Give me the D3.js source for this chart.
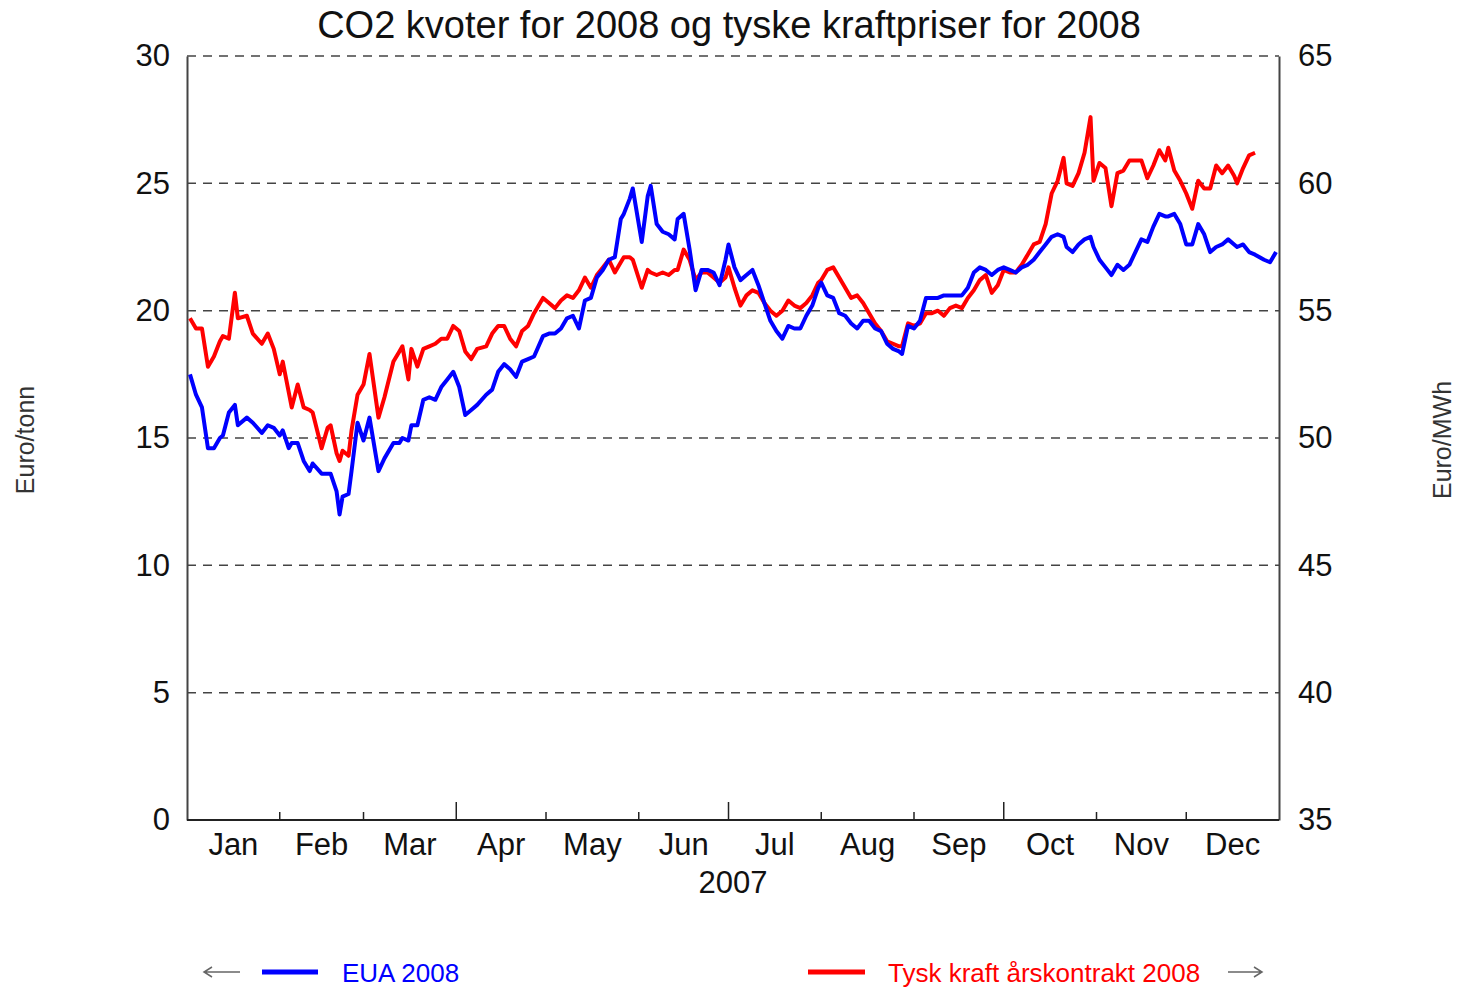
<!DOCTYPE html>
<html>
<head>
<meta charset="utf-8">
<script src="https://cdn.jsdelivr.net/npm/d3@7"></script>
<style>
  body { margin: 0; background: #fff; }
  svg { display: block; font-family: "Liberation Sans", Arial, sans-serif; }
</style>
</head>
<body>
<script>
const w = 1461;
const h = 988;
const margin = {top: 56, right: 182, bottom: 168, left: 187};

const titleText = "CO2 kvoter for 2008 og tyske kraftpriser for 2008";
const leftTicks = [0, 5, 10, 15, 20, 25, 30];
const rightTicks = [35, 40, 45, 50, 55, 60, 65];
const monthLabels = ["Jan", "Feb", "Mar", "Apr", "May", "Jun", "Jul", "Aug", "Sep", "Oct", "Nov", "Dec"];
const seriesNames = ["EUA 2008", "Tysk kraft årskontrakt 2008"];

// dates (2007)
const dates = [
  "2007-01-02","2007-01-04","2007-01-06","2007-01-08","2007-01-10","2007-01-12","2007-01-13","2007-01-15","2007-01-17","2007-01-18",
  "2007-01-21","2007-01-23","2007-01-26","2007-01-28","2007-01-30","2007-02-01","2007-02-02","2007-02-04","2007-02-05","2007-02-07",
  "2007-02-09","2007-02-11","2007-02-12","2007-02-15","2007-02-17","2007-02-18","2007-02-20","2007-02-21","2007-02-22","2007-02-24",
  "2007-02-25","2007-02-27","2007-03-01","2007-03-03","2007-03-06","2007-03-08","2007-03-11","2007-03-13","2007-03-14","2007-03-16",
  "2007-03-17","2007-03-19","2007-03-21","2007-03-23","2007-03-25","2007-03-27","2007-03-29","2007-03-31","2007-04-02","2007-04-04",
  "2007-04-06","2007-04-08","2007-04-11","2007-04-13","2007-04-15","2007-04-17","2007-04-19","2007-04-21","2007-04-23","2007-04-25",
  "2007-04-27","2007-04-30","2007-05-02","2007-05-04","2007-05-06","2007-05-08","2007-05-10","2007-05-12","2007-05-14","2007-05-16",
  "2007-05-18","2007-05-20","2007-05-22","2007-05-24","2007-05-26","2007-05-27","2007-05-29","2007-05-30","2007-06-02","2007-06-04",
  "2007-06-05","2007-06-07","2007-06-09","2007-06-11","2007-06-13","2007-06-14","2007-06-16","2007-06-18","2007-06-20","2007-06-22",
  "2007-06-24","2007-06-26","2007-06-28","2007-06-30","2007-07-01","2007-07-03","2007-07-05","2007-07-07","2007-07-09","2007-07-11",
  "2007-07-13","2007-07-15","2007-07-17","2007-07-19","2007-07-21","2007-07-23","2007-07-25","2007-07-27","2007-07-29","2007-07-31",
  "2007-08-01","2007-08-03","2007-08-05","2007-08-07","2007-08-09","2007-08-11","2007-08-13","2007-08-15","2007-08-17","2007-08-19",
  "2007-08-21","2007-08-23","2007-08-25","2007-08-27","2007-08-28","2007-08-30","2007-09-01","2007-09-03","2007-09-05","2007-09-07",
  "2007-09-09","2007-09-11","2007-09-13","2007-09-15","2007-09-17","2007-09-19","2007-09-21","2007-09-23","2007-09-25","2007-09-27",
  "2007-09-29","2007-10-01","2007-10-03","2007-10-05","2007-10-07","2007-10-09","2007-10-11","2007-10-13","2007-10-15","2007-10-17",
  "2007-10-19","2007-10-21","2007-10-22","2007-10-24","2007-10-26","2007-10-28","2007-10-30","2007-10-31","2007-11-02","2007-11-04",
  "2007-11-06","2007-11-08","2007-11-10","2007-11-12","2007-11-14","2007-11-16","2007-11-18","2007-11-20","2007-11-22","2007-11-24",
  "2007-11-25","2007-11-27","2007-11-29","2007-12-01","2007-12-03","2007-12-05","2007-12-07","2007-12-09","2007-12-11","2007-12-13",
  "2007-12-15","2007-12-17","2007-12-18","2007-12-20","2007-12-22","2007-12-24","2007-12-27","2007-12-29","2007-12-31"
];

// EUA 2008, Euro/tonn (left axis)
const eua = [
  17.5,16.7,16.2,14.6,14.6,15.0,15.1,16.0,16.3,15.5,
  15.8,15.6,15.2,15.5,15.4,15.1,15.3,14.6,14.8,14.8,
  14.1,13.7,14.0,13.6,13.6,13.6,12.9,12.0,12.7,12.8,
  13.7,15.6,14.9,15.8,13.7,14.2,14.8,14.8,15.0,14.9,
  15.5,15.5,16.5,16.6,16.5,17.0,17.3,17.6,17.0,15.9,
  16.1,16.3,16.7,16.9,17.6,17.9,17.7,17.4,18.0,18.1,
  18.2,19.0,19.1,19.1,19.3,19.7,19.8,19.3,20.4,20.5,
  21.3,21.6,22.0,22.1,23.6,23.8,24.4,24.8,22.7,24.5,
  24.9,23.4,23.1,23.0,22.8,23.6,23.8,22.4,20.8,21.6,
  21.6,21.5,21.0,22.0,22.6,21.7,21.2,21.4,21.6,21.0,
  20.3,19.6,19.2,18.9,19.4,19.3,19.3,19.8,20.2,20.9,
  21.1,20.6,20.5,19.9,19.8,19.5,19.3,19.6,19.6,19.3,
  19.2,18.7,18.5,18.4,18.3,19.4,19.3,19.6,20.5,20.5,
  20.5,20.6,20.6,20.6,20.6,20.9,21.5,21.7,21.6,21.4,
  21.6,21.7,21.6,21.5,21.7,21.8,22.0,22.3,22.6,22.9,
  23.0,22.9,22.5,22.3,22.6,22.8,22.9,22.5,22.0,21.7,
  21.4,21.8,21.6,21.8,22.3,22.8,22.7,23.3,23.8,23.7,
  23.7,23.8,23.4,22.6,22.6,23.4,23.0,22.3,22.5,22.6,
  22.8,22.6,22.5,22.6,22.3,22.2,22.0,21.9,22.3
];

// Tysk kraft årskontrakt 2008, Euro/MWh (right axis)
const kraft = [
  54.7,54.3,54.3,52.8,53.2,53.8,54.0,53.9,55.7,54.7,
  54.8,54.1,53.7,54.1,53.5,52.5,53.0,51.8,51.2,52.1,
  51.2,51.1,51.0,49.6,50.4,50.5,49.4,49.1,49.5,49.3,
  50.3,51.7,52.1,53.3,50.8,51.6,53.0,53.4,53.6,52.3,
  53.5,52.8,53.5,53.6,53.7,53.9,53.9,54.4,54.2,53.4,
  53.1,53.5,53.6,54.1,54.4,54.4,53.9,53.6,54.2,54.4,
  54.9,55.5,55.3,55.1,55.4,55.6,55.5,55.8,56.3,55.9,
  56.4,56.7,57.0,56.5,56.9,57.1,57.1,57.0,55.9,56.6,
  56.5,56.4,56.5,56.4,56.6,56.6,57.4,57.0,56.2,56.5,
  56.5,56.3,56.1,56.3,56.7,55.9,55.2,55.6,55.8,55.7,
  55.3,55.0,54.8,55.0,55.4,55.2,55.1,55.3,55.6,56.1,
  56.2,56.6,56.7,56.3,55.9,55.5,55.6,55.3,54.9,54.5,
  54.2,53.8,53.7,53.6,53.6,54.5,54.4,54.5,54.9,54.9,
  55.0,54.8,55.1,55.2,55.1,55.5,55.8,56.2,56.4,55.7,
  56.0,56.6,56.5,56.5,56.8,57.2,57.6,57.7,58.4,59.6,
  60.1,61.0,60.0,59.9,60.4,61.2,62.6,60.1,60.8,60.6,
  59.1,60.4,60.5,60.9,60.9,60.9,60.2,60.7,61.3,60.9,
  61.4,60.5,60.1,59.6,59.0,60.1,59.8,59.8,60.7,60.4,
  60.7,60.3,60.0,60.6,61.1,61.2,null,null,null
];

const parseDate = d3.timeParse("%Y-%m-%d");
const data = dates.map((d, i) => ({date: parseDate(d), eua: eua[i], kraft: kraft[i]}));

const svg = d3.select("body")
  .append("svg")
  .attr("width", w)
  .attr("height", h);

const x = d3.scaleTime()
  .domain([new Date(2007, 0, 1), new Date(2008, 0, 1)])
  .range([margin.left, w - margin.right]);

const yLeft = d3.scaleLinear()
  .domain([0, 30])
  .range([h - margin.bottom, margin.top]);

const yRight = d3.scaleLinear()
  .domain([35, 65])
  .range([h - margin.bottom, margin.top]);

// title
svg.append("text")
  .attr("x", 729)
  .attr("y", 38)
  .attr("text-anchor", "middle")
  .style("font-size", "38px")
  .style("fill", "#111")
  .text(titleText);

// dashed gridlines
svg.append("g")
  .selectAll("line")
  .data(leftTicks.filter(d => d > 0))
  .enter()
  .append("line")
  .attr("x1", margin.left)
  .attr("x2", w - margin.right)
  .attr("y1", d => yLeft(d))
  .attr("y2", d => yLeft(d))
  .attr("stroke", "#444")
  .attr("stroke-width", 1.5)
  .attr("stroke-dasharray", "9,7");

// left axis
const leftAxis = svg.append("g")
  .attr("transform", "translate(" + margin.left + ",0)")
  .call(d3.axisLeft(yLeft).tickValues(leftTicks).tickSize(0).tickPadding(17));

// right axis
const rightAxis = svg.append("g")
  .attr("transform", "translate(" + (w - margin.right) + ",0)")
  .call(d3.axisRight(yRight).tickValues(rightTicks).tickSize(0).tickPadding(19));

[leftAxis, rightAxis].forEach(a => {
  a.select(".domain").attr("stroke", "#444").attr("stroke-width", 2);
  a.selectAll("text").style("font-size", "31px").style("fill", "#111").attr("font-family", null);
});

// bottom axis: month ticks pointing up, labels mid-month
const months = d3.timeMonths(new Date(2007, 0, 1), new Date(2008, 0, 1));
const bottom = svg.append("g");
bottom.append("line")
  .attr("x1", margin.left)
  .attr("x2", w - margin.right)
  .attr("y1", h - margin.bottom)
  .attr("y2", h - margin.bottom)
  .attr("stroke", "#222")
  .attr("stroke-width", 2);

bottom.selectAll(".mtick")
  .data(months.slice(1))
  .enter()
  .append("line")
  .attr("class", "mtick")
  .attr("x1", d => x(d))
  .attr("x2", d => x(d))
  .attr("y1", h - margin.bottom)
  .attr("y2", d => h - margin.bottom - (d.getMonth() % 3 == 0 ? 18 : 8))
  .attr("stroke", "#222")
  .attr("stroke-width", 1.5);

bottom.selectAll(".mlabel")
  .data(months)
  .enter()
  .append("text")
  .attr("class", "mlabel")
  .attr("x", d => (x(d) + x(d3.timeMonth.offset(d, 1))) / 2)
  .attr("y", h - margin.bottom + 35)
  .attr("text-anchor", "middle")
  .style("font-size", "31px")
  .style("fill", "#111")
  .text((d, i) => monthLabels[i]);

svg.append("text")
  .attr("x", (margin.left + w - margin.right) / 2)
  .attr("y", h - margin.bottom + 73)
  .attr("text-anchor", "middle")
  .style("font-size", "31px")
  .style("fill", "#111")
  .text("2007");

// axis titles
svg.append("text")
  .attr("transform", "translate(34,440) rotate(-90)")
  .attr("text-anchor", "middle")
  .style("font-size", "25px")
  .style("fill", "#333")
  .text("Euro/tonn");

svg.append("text")
  .attr("transform", "translate(1451,440) rotate(-90)")
  .attr("text-anchor", "middle")
  .style("font-size", "25px")
  .style("fill", "#333")
  .text("Euro/MWh");

// lines
const euaLine = d3.line()
  .x(d => x(d.date))
  .y(d => yLeft(d.eua));

const kraftLine = d3.line()
  .defined(d => d.kraft != null)
  .x(d => x(d.date))
  .y(d => yRight(d.kraft));

svg.append("path")
  .datum(data)
  .attr("fill", "none")
  .attr("stroke", "#ff0000")
  .attr("stroke-width", 4)
  .attr("stroke-linejoin", "round")
  .attr("d", kraftLine);

svg.append("path")
  .datum(data)
  .attr("fill", "none")
  .attr("stroke", "#0000ff")
  .attr("stroke-width", 4)
  .attr("stroke-linejoin", "round")
  .attr("d", euaLine);

// legend
const ly = 972;
const legend = svg.append("g");

legend.append("path")
  .attr("d", "M240," + ly + "H204M212," + (ly - 5) + "L204," + ly + "L212," + (ly + 5))
  .attr("fill", "none")
  .attr("stroke", "#666")
  .attr("stroke-width", 1.5);

legend.append("line")
  .attr("x1", 262).attr("x2", 318)
  .attr("y1", ly).attr("y2", ly)
  .attr("stroke", "#0000ff")
  .attr("stroke-width", 5);

legend.append("text")
  .attr("x", 342).attr("y", ly + 10)
  .style("font-size", "26px")
  .style("fill", "#0000ff")
  .text(seriesNames[0]);

legend.append("line")
  .attr("x1", 808).attr("x2", 865)
  .attr("y1", ly).attr("y2", ly)
  .attr("stroke", "#ff0000")
  .attr("stroke-width", 5);

legend.append("text")
  .attr("x", 888).attr("y", ly + 10)
  .style("font-size", "26px")
  .style("fill", "#ff0000")
  .text(seriesNames[1]);

legend.append("path")
  .attr("d", "M1228," + ly + "H1262M1254," + (ly - 5) + "L1262," + ly + "L1254," + (ly + 5))
  .attr("fill", "none")
  .attr("stroke", "#666")
  .attr("stroke-width", 1.5);
</script>
</body>
</html>
